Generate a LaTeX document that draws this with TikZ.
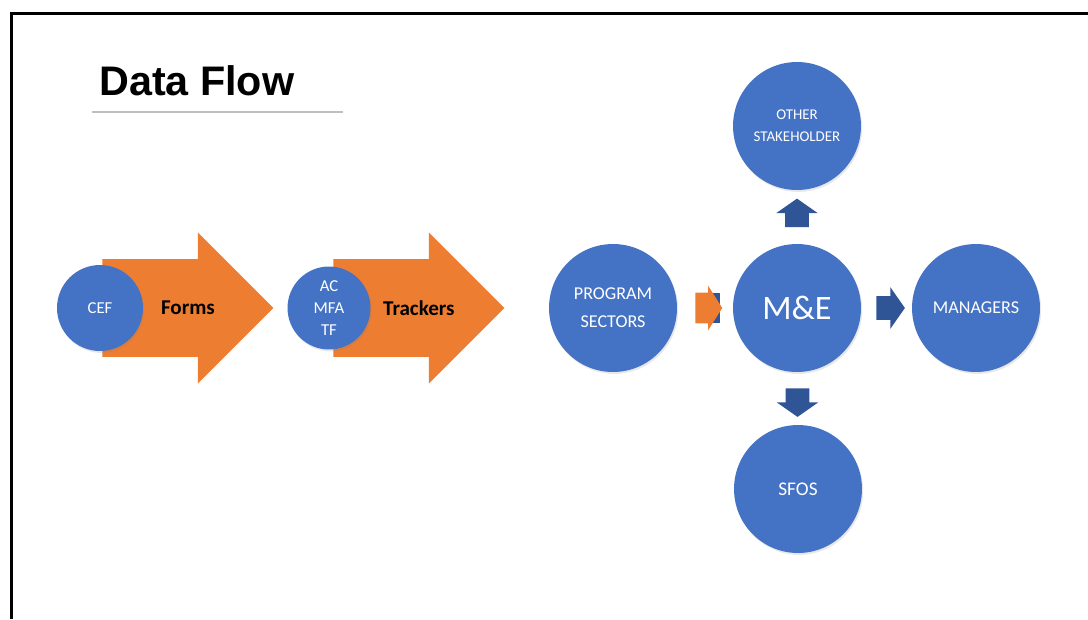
\documentclass[tikz,border=0pt]{standalone}
\usepackage{fontspec}
\setmainfont{Carlito}
\newfontfamily\headfont{Liberation Sans}
\usetikzlibrary{shapes.arrows, shadows, calc, positioning}
\definecolor{circblue}{HTML}{4472C4}
\definecolor{floworange}{HTML}{ED7D31}
\definecolor{darkarrow}{HTML}{2F5597}
\tikzset{
    softshadow/.style={drop shadow={shadow xshift=0.7pt, shadow yshift=-1.1pt, opacity=0.18}},
    bignode/.style={circle, fill=circblue, text=white, minimum size=2.56cm, inner sep=0pt, align=center, softshadow, font=\fontsize{10.3}{15.9}\selectfont},
    srcnode/.style={circle, fill=circblue, text=white, inner sep=0pt, align=center, softshadow, font=\fontsize{9.5}{12.5}\selectfont},
    bigarrow/.style={single arrow, fill=floworange, anchor=tail, inner sep=0pt, text height=0.97cm, text depth=0.97cm, minimum height=3.42cm, single arrow head extend=0.53cm},
    smallarrow/.style={single arrow, fill=darkarrow, inner sep=0pt, text height=0.23cm, text depth=0.23cm, minimum height=0.57cm, single arrow head extend=0.18cm, single arrow tip angle=110},
    arrowtext/.style={font=\fontsize{12}{14}\selectfont\bfseries},
}
\begin{document}
\begin{tikzpicture}[x=0.02cm, y=-0.02cm]
    \useasboundingbox (0,0) rectangle (1088,619);
    % Slide frame and title
    \draw[line width=1.7pt] (11.5,619) -- (11.5,13.5) -- (1088,13.5);
    \node[anchor=base west, inner sep=0pt, font=\headfont\bfseries\fontsize{23.5}{26}\selectfont] (title) at (99,95) {Data Flow};
    \draw[black!25, line width=0.6pt] (92,112) -- (343,112);

    % Collection: forms and trackers
    \node[bigarrow] (forms) at (102,308) {};
    \node[arrowtext] (formstxt) at ($(forms.tail)!0.5!(forms.tip)$) {Forms};
    \node[srcnode, minimum size=1.72cm] (cef) at (100,308) {CEF};
    \node[bigarrow] (trackers) at (333,308) {};
    \node[arrowtext] (trackerstxt) at ($(trackers.tail)!0.5!(trackers.tip)$) {Trackers};
    \node[srcnode, minimum size=1.66cm] (actf) at (329,308) {AC\\MFA\\TF};

    % Hub
    \node[bignode] (sectors) at (613,308) {PROGRAM\\SECTORS};
    \node[bignode, font=\fontsize{19.5}{22}\selectfont] (me) at (797,308) {M\&E};
    \node[bignode] (managers) at (976,308) {MANAGERS};
    \node[bignode, font=\fontsize{8.5}{12.5}\selectfont] (other) at (797,126) {OTHER\\STAKEHOLDER};
    \node[bignode, font=\fontsize{11}{13}\selectfont] (sfos) at (798,489) {SFOS};

    % Arrows between circles
    \node[fill=darkarrow, minimum width=0.34cm, minimum height=0.6cm, inner sep=0pt] (inbox) at ($(sectors.east)!0.62!(me.west)$) {};
    \node[single arrow, fill=floworange, inner sep=0pt, text height=0.3cm, text depth=0.3cm, minimum height=0.54cm, single arrow head extend=0.14cm, single arrow tip angle=115] (inarrow) at ($(sectors.east)!0.48!(me.west)$) {};
    \node[smallarrow] (toother) [rotate=90] at ($(me.north)!0.5!(other.south)$) {};
    \node[smallarrow] (tosfos) [rotate=-90] at ($(me.south)!0.5!(sfos.north)$) {};
    \node[smallarrow] (tomgr) at ($(me.east)!0.5!(managers.west)$) {};
\end{tikzpicture}
\end{document}
